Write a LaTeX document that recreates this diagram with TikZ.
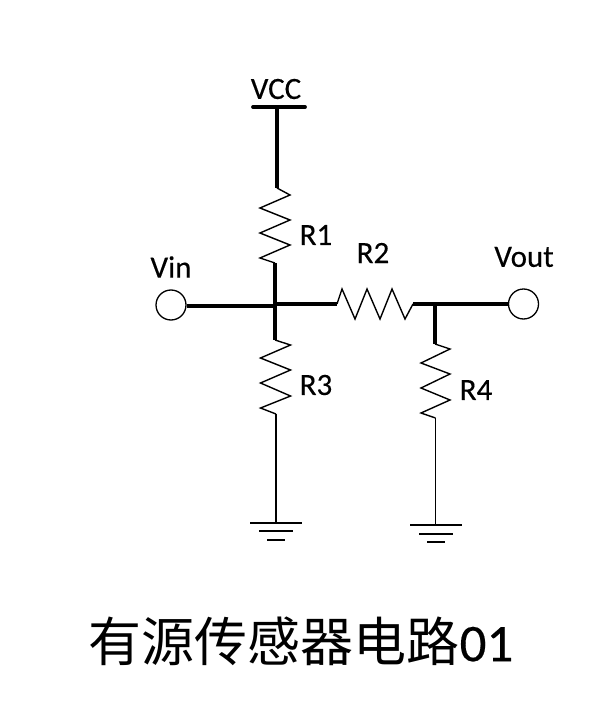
\documentclass[tikz,border=0pt]{standalone}
\usepackage{fontspec}
\setmainfont[FakeBold=0.3]{Carlito}
\newfontfamily\cjkfont{Noto Sans CJK SC}
\usepackage{tikz}

\begin{document}
\begin{tikzpicture}[
        x=1pt, y=-1pt,
        thickwire/.style={line width=3.8pt},
        thinwire/.style={line width=1.4pt},
        zigzag/.style={line width=1.4pt, line join=miter},
        port/.style={circle, draw, line width=1.3pt, fill=white, inner sep=0pt, minimum size=30pt},
        label/.style={inner sep=0pt, font=\fontsize{31}{31}\selectfont},
        gndbar/.style={line width=1.4pt}
    ]
        \useasboundingbox (0,0) rectangle (605,722);

        % junctions and resistor ends
        \coordinate (vcc) at (277,107);
        \coordinate (vccl) at (253,107);
        \coordinate (vccr) at (305,107);
        \coordinate (r1a) at (277,188);
        \coordinate (r1b) at (275,263);
        \coordinate (jn) at (275,306);
        \coordinate (jnr) at (275,304);
        \coordinate (r3a) at (275,340);
        \coordinate (r3b) at (276,414);
        \coordinate (r2a) at (337,304);
        \coordinate (r2b) at (413,304);
        \coordinate (jn2) at (435,304);
        \coordinate (r4a) at (435,344);
        \coordinate (r4b) at (435.5,418);
        \coordinate (gnd1) at (276,523);
        \coordinate (gnd2) at (435.5,525);

        \node[port] (vin) at (171,305) {};
        \node[port] (vout) at (523.5,304) {};

        % thick wires
        \draw[thickwire, line cap=round] (vccl) -- (vccr);
        \draw[thickwire] (vcc) -- (r1a);
        \draw[thickwire] (r1b) -- (r3a);
        \draw[thickwire] (vin.east |- jn) -- (jn);
        \draw[thickwire] (jnr) -- (r2a);
        \draw[thickwire] (r2b) -- (vout);
        \draw[thickwire] (jn2) -- (r4a);

        % resistors
        \draw[zigzag] (r1a) -- ++(13,7) -- ++(-30,13) -- ++(30,12) -- ++(-30,13) -- ++(30,12) -- ++(-30,13) -- (r1b);
        \draw[zigzag] (r2a) -- ++(5,-15) -- ++(13,30) -- ++(12,-30) -- ++(13,30) -- ++(12,-30) -- ++(13,30) -- (r2b);
        \draw[zigzag] (r3a) -- ++(15.5,5) -- ++(-30,13) -- ++(30,12) -- ++(-30,13) -- ++(30,13) -- ++(-30,12) -- (r3b);
        \draw[zigzag] (r4a) -- ++(15,5) -- ++(-29,14) -- ++(29,11) -- ++(-29,14) -- ++(29,12) -- ++(-29,13) -- (r4b);

        % ground
        \draw[thinwire] (r3b) -- (gnd1);
        \draw[thinwire] (r4b) -- (gnd2);
        \draw[gndbar] (250,523) -- (302,523);
        \draw[gndbar] (259,531) -- (293,531);
        \draw[gndbar] (267,540) -- (285,540);
        \draw[gndbar] (410,525) -- (462,525);
        \draw[gndbar] (419,534) -- (453,534);
        \draw[gndbar] (427,542) -- (445,542);

        \node[label] (vcclabel) at (276,89) {VCC};
        \node[label] (r1label) at (316,235) {R1};
        \node[label] (r2label) at (373,253) {R2};
        \node[label] (r3label) at (316,385) {R3};
        \node[label] (r4label) at (476,390) {R4};
        \node[label] (vinlabel) at (171,267) {Vin};
        \node[label] (voutlabel) at (524,257) {Vout};

        \node[inner sep=0pt, font=\fontsize{53}{53}\selectfont] (title) at (301,641) {{\cjkfont 有源传感器电路}01};
    \end{tikzpicture}
\end{document}
